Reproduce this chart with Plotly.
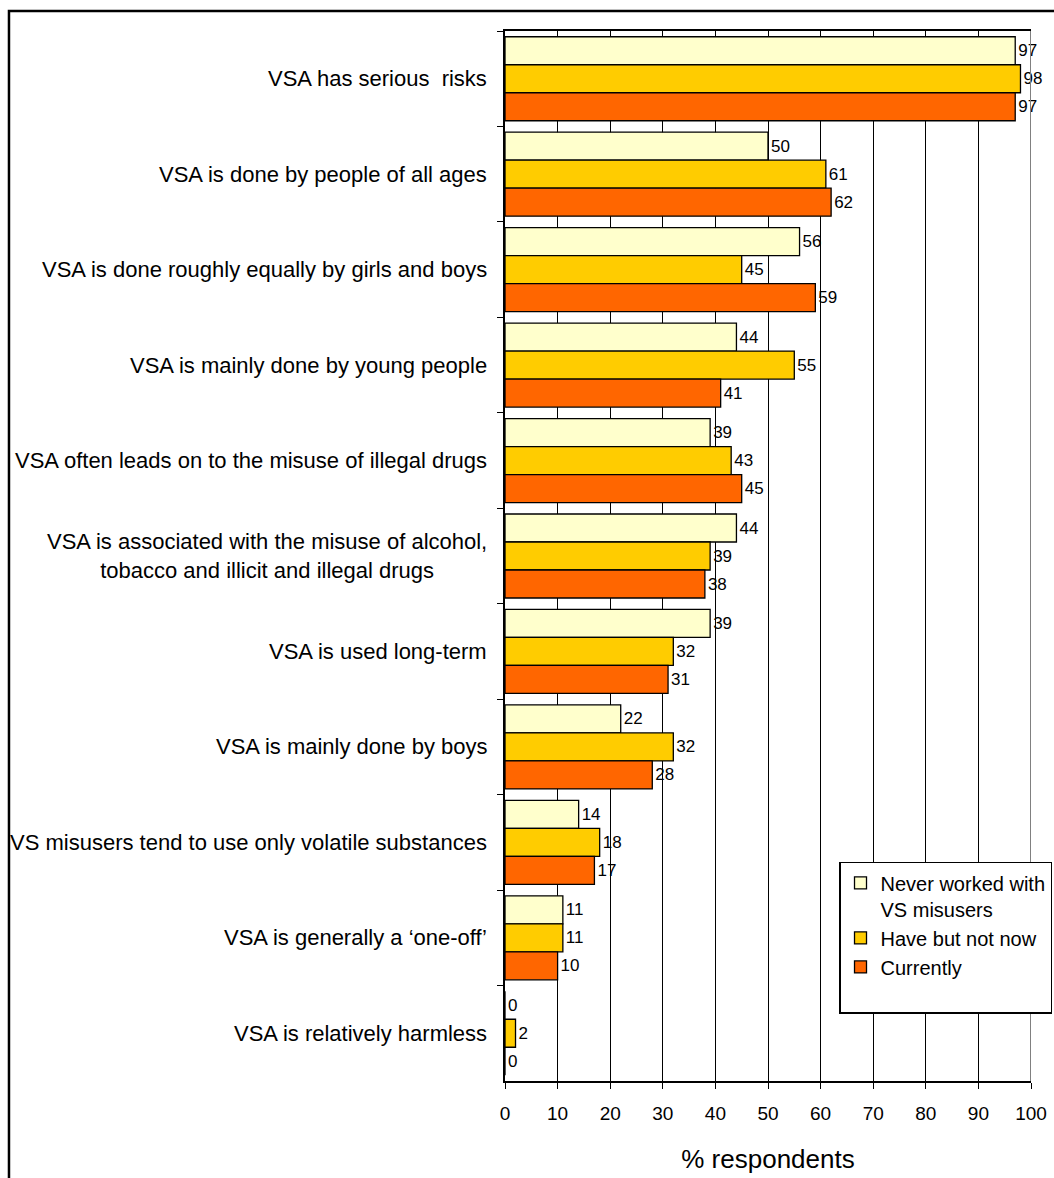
import plotly.graph_objects as go

# statements, top to bottom
categories = [
    "VSA has serious  risks",
    "VSA is done by people of all ages",
    "VSA is done roughly equally by girls and boys",
    "VSA is mainly done by young people",
    "VSA often leads on to the misuse of illegal drugs",
    "VSA is associated with the misuse of alcohol,<br>tobacco and illicit and illegal drugs",
    "VSA is used long-term",
    "VSA is mainly done by boys",
    "VS misusers tend to use only volatile substances",
    "VSA is generally a \u2018one-off\u2019",
    "VSA is relatively harmless",
]

never_worked = [97, 50, 56, 44, 39, 44, 39, 22, 14, 11, 0]
have_not_now = [98, 61, 45, 55, 43, 39, 32, 32, 18, 11, 2]
currently = [97, 62, 59, 41, 45, 38, 31, 28, 17, 10, 0]

series_names = ["Never worked with<br>VS misusers", "Have but not now", "Currently<br> "]
colors = ["#FFFFCC", "#FFCC00", "#FF6600"]

FONT = "Arial, Liberation Sans, sans-serif"

fig = go.Figure()
for name, vals, col in zip(series_names, [never_worked, have_not_now, currently], colors):
    fig.add_trace(go.Bar(
        y=categories, x=vals, name=name, orientation="h",
        marker=dict(color=col, line=dict(color="black", width=1.3)),
        text=vals, textposition="outside", constraintext="none",
        textfont=dict(size=17, color="black", family=FONT),
        cliponaxis=False,
    ))

# category labels, centred lines like the original
for cat in categories:
    fig.add_annotation(x=0, xref="paper", y=cat, yref="y", text=cat,
                       xanchor="right", xshift=-16, align="center",
                       showarrow=False, font=dict(size=22, color="black", family=FONT))

fig.update_layout(
    width=1054, height=1178,
    margin=dict(l=505, r=23, t=31, b=97, autoexpand=False),
    paper_bgcolor="white", plot_bgcolor="white",
    barmode="group", bargap=0.12, bargroupgap=0,
    font=dict(family=FONT, color="black"),
    legend=dict(x=0.635, y=0.2086, xanchor="left", yanchor="top",
                bgcolor="white", bordercolor="black", borderwidth=1.5,
                font=dict(size=20, family=FONT), valign="top",
                traceorder="normal", itemwidth=30),
    xaxis=dict(range=[0, 100], dtick=10, showgrid=True, gridcolor="black", gridwidth=1,
               showline=True, linecolor="black", linewidth=1.5, mirror=True,
               ticks="outside", ticklen=6, tickcolor="black",
               tickfont=dict(size=19, family=FONT), zeroline=False,
               ticklabelstandoff=8,
               title=dict(text="% respondents", font=dict(size=26, family=FONT), standoff=27)),
    yaxis=dict(autorange="reversed", showticklabels=False, tickson="boundaries",
               ticks="outside", ticklen=6, tickcolor="black",
               showline=True, linecolor="black", linewidth=1.5, showgrid=False),
    shapes=[
        dict(type="line", xref="x", yref="paper", x0=100, x1=100, y0=0, y1=1,
             line=dict(color="#808080", width=2)),
        dict(type="rect", xref="paper", yref="paper", x0=-0.943, x1=1.2, y0=-0.3, y1=1.019,
             line=dict(color="black", width=2.5)),
    ],
)

# drop the default 8px page margin so the figure fills the window
fig.write_html("out.html", config={"displayModeBar": False},
               post_script="document.body.style.margin='0';")
